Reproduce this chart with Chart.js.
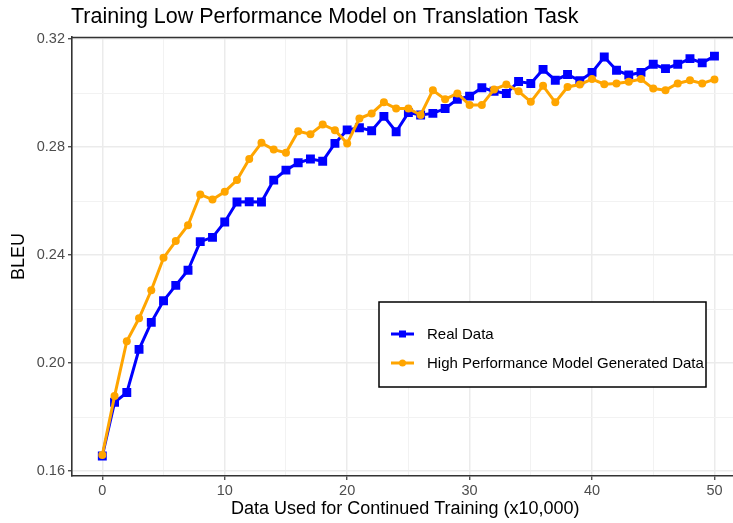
<!DOCTYPE html>
<html>
<head>
<meta charset="utf-8">
<script src="https://cdn.jsdelivr.net/npm/chart.js@4.4.1/dist/chart.umd.min.js"></script>
<style>
  html, body { margin: 0; padding: 0; background: #ffffff; overflow: hidden; width: 733px; height: 523px; }
  #wrap { position: absolute; left: 0; top: 0; width: 745px; height: 523px; }
  #c { display: block; width: 745px; height: 523px; }
</style>
</head>
<body>
<div id="wrap"><canvas id="c" width="745" height="523" style="width:745px;height:523px"></canvas></div>
<script>
// ---- data ----
const xValues = [0,1,2,3,4,5,6,7,8,9,10,11,12,13,14,15,16,17,18,19,20,21,22,23,24,25,26,27,28,29,30,31,32,33,34,35,36,37,38,39,40,41,42,43,44,45,46,47,48,49,50];
const realData = [0.1656,0.1855,0.1891,0.2051,0.2151,0.2231,0.2288,0.2344,0.2450,0.2466,0.2523,0.2597,0.2598,0.2597,0.2678,0.2715,0.2742,0.2756,0.2748,0.2814,0.2864,0.2872,0.2861,0.2914,0.2857,0.2928,0.2919,0.2925,0.2943,0.2977,0.2989,0.3020,0.3007,0.2999,0.3043,0.3036,0.3088,0.3048,0.3069,0.3046,0.3077,0.3134,0.3085,0.3067,0.3077,0.3107,0.3091,0.3107,0.3128,0.3112,0.3137];
const generatedData = [0.1660,0.1878,0.2081,0.2166,0.2270,0.2390,0.2452,0.2511,0.2625,0.2606,0.2635,0.2678,0.2756,0.2816,0.2791,0.2779,0.2859,0.2848,0.2884,0.2863,0.2814,0.2906,0.2925,0.2966,0.2943,0.2943,0.2919,0.3011,0.2977,0.2999,0.2956,0.2956,0.3014,0.3032,0.3007,0.2968,0.3027,0.2966,0.3023,0.3032,0.3052,0.3033,0.3036,0.3042,0.3052,0.3017,0.3011,0.3036,0.3048,0.3036,0.3051];
const seriesNames = ["Real Data", "High Performance Model Generated Data"];
const xTicks = [0,5,10,15,20,25,30,35,40,45,50];
const xLabelTicks = [0,10,20,30,40,50];
const yTicks = [0.16,0.18,0.20,0.22,0.24,0.26,0.28,0.30,0.32];
const yLabelTicks = [0.16,0.20,0.24,0.28,0.32];
const titleText = "Training Low Performance Model on Translation Task";
const xTitle = "Data Used for Continued Training (x10,000)";
const yTitle = "BLEU";

const BLUE = "#0000FF", ORANGE = "#FFA500";
const FONT = "'Liberation Sans', Arial, Helvetica, sans-serif";
const isLabelX = v => xLabelTicks.some(t => Math.abs(t - v) < 1e-6);
const isLabelY = v => yLabelTicks.some(t => Math.abs(t - v) < 1e-6);

const toPts = arr => arr.map((y, i) => ({x: xValues[i], y}));

const decor = {
  id: 'decor',
  afterDraw(chart) {
    const ctx = chart.ctx, ca = chart.chartArea;
    ctx.save();
    // top panel border
    ctx.strokeStyle = '#333333';
    ctx.lineWidth = 1.6;
    ctx.beginPath();
    ctx.moveTo(ca.left, ca.top + 0.5);
    ctx.lineTo(ca.right + 20, ca.top + 0.5);
    ctx.stroke();
    // title
    ctx.fillStyle = '#000000';
    ctx.font = "21.5px " + FONT;
    ctx.textBaseline = 'alphabetic';
    ctx.textAlign = 'left';
    ctx.fillText(titleText, 71, 22.5);
    // legend
    const lx = 379, ly = 302, lw = 327, lh = 85;
    ctx.fillStyle = '#ffffff';
    ctx.fillRect(lx, ly, lw, lh);
    ctx.strokeStyle = '#000000';
    ctx.lineWidth = 1.5;
    ctx.strokeRect(lx, ly, lw, lh);
    const items = [chart.data.datasets[1], chart.data.datasets[0]];
    const rows = [334, 363];
    items.forEach((ds, k) => {
      const y = rows[k];
      ctx.strokeStyle = ds.borderColor;
      ctx.lineWidth = 3;
      ctx.beginPath();
      ctx.moveTo(391, y); ctx.lineTo(414, y);
      ctx.stroke();
      ctx.fillStyle = ds.borderColor;
      if (ds.pointStyle === 'rect') {
        ctx.fillRect(402.5 - 3.5, y - 3.5, 7, 7);
      } else {
        ctx.beginPath(); ctx.arc(402.5, y, 3.5, 0, Math.PI * 2); ctx.fill();
      }
      ctx.fillStyle = '#000000';
      ctx.font = "15px " + FONT;
      ctx.textBaseline = 'middle';
      ctx.fillText(ds.label, 427, y + 1);
    });
    ctx.restore();
  }
};

new Chart(document.getElementById('c'), {
  type: 'line',
  data: {
    datasets: [
      {
        label: seriesNames[1],
        data: toPts(generatedData),
        borderColor: ORANGE,
        backgroundColor: ORANGE,
        borderWidth: 3,
        pointStyle: 'circle',
        pointRadius: 4,
        pointBorderWidth: 0,
        tension: 0,
        order: 0
      },
      {
        label: seriesNames[0],
        data: toPts(realData),
        borderColor: BLUE,
        backgroundColor: BLUE,
        borderWidth: 3,
        pointStyle: 'rect',
        pointRadius: 6.3,
        pointBorderWidth: 0,
        tension: 0,
        order: 1
      }
    ]
  },
  options: {
    responsive: false,
    maintainAspectRatio: false,
    animation: false,
    devicePixelRatio: 1,
    layout: { padding: { top: 37, right: 0, bottom: 0, left: 0 } },
    plugins: { legend: { display: false }, title: { display: false }, tooltip: { enabled: false } },
    scales: {
      x: {
        type: 'linear',
        min: -2.476,
        max: 51.98,
        afterFit(s) { s.height = 47; s.paddingLeft = 0; s.paddingRight = 0; },
        afterBuildTicks(s) { s.ticks = xTicks.map(v => ({value: v})); },
        ticks: {
          autoSkip: false,
          maxRotation: 0,
          padding: 2,
          color: '#4d4d4d',
          font: { family: FONT, size: 14.5 },
          callback: v => isLabelX(v) ? String(v) : ''
        },
        grid: {
          color: c => isLabelX(c.tick.value) ? '#ebebeb' : '#f2f2f2',
          lineWidth: c => isLabelX(c.tick.value) ? 1.5 : 1,
          tickColor: c => isLabelX(c.tick.value) ? '#333333' : 'rgba(0,0,0,0)',
          tickLength: 4,
          tickWidth: 1.2,
          drawTicks: true
        },
        border: { display: true, color: '#333333', width: 1.6 },
        title: { display: true, text: xTitle, color: '#000000', font: { family: FONT, size: 18 }, padding: { top: 0, bottom: 3 } }
      },
      y: {
        type: 'linear',
        min: 0.1582,
        max: 0.3208,
        afterFit(s) { s.width = 72; s.paddingTop = 0; s.paddingBottom = 0; },
        afterBuildTicks(s) { s.ticks = yTicks.map(v => ({value: v})); },
        ticks: {
          autoSkip: false,
          padding: 3,
          color: '#4d4d4d',
          font: { family: FONT, size: 14.5 },
          callback: v => isLabelY(v) ? v.toFixed(2) : ''
        },
        grid: {
          color: c => isLabelY(c.tick.value) ? '#ebebeb' : '#f2f2f2',
          lineWidth: c => isLabelY(c.tick.value) ? 1.5 : 1,
          tickColor: c => isLabelY(c.tick.value) ? '#333333' : 'rgba(0,0,0,0)',
          tickLength: 4,
          tickWidth: 1.2,
          drawTicks: true
        },
        border: { display: true, color: '#333333', width: 1.6 },
        title: { display: true, text: yTitle, color: '#000000', font: { family: FONT, size: 18 }, padding: { top: 8, bottom: 0 } }
      }
    }
  },
  plugins: [decor]
});
</script>
</body>
</html>
